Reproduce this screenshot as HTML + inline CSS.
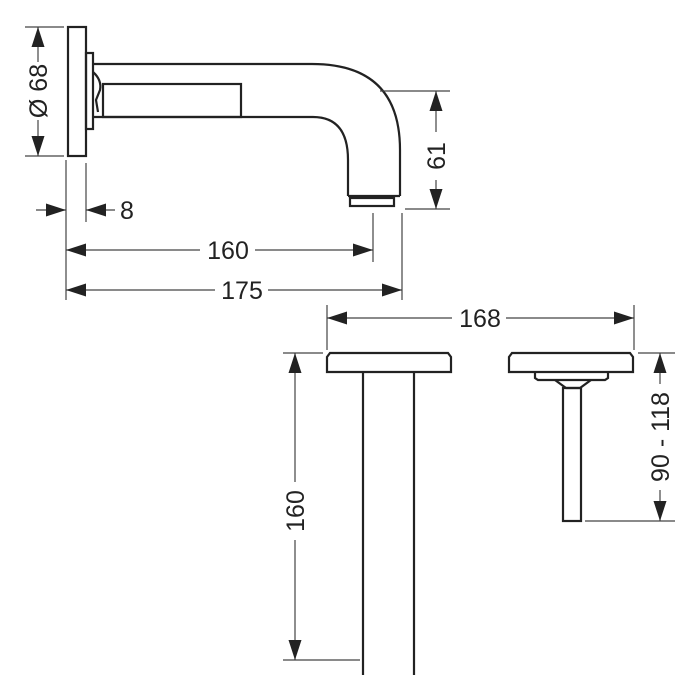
<!DOCTYPE html>
<html><head><meta charset="utf-8"><style>
html,body{margin:0;padding:0;background:#fff;}
svg{display:block;}
text{font-family:"Liberation Sans",sans-serif;font-size:25px;fill:#222;}
</style></head><body>
<svg width="700" height="700" viewBox="0 0 700 700" xmlns="http://www.w3.org/2000/svg">
<defs>
<marker id="a" viewBox="0 0 20 13" refX="20" refY="6.5" markerWidth="20" markerHeight="13" markerUnits="userSpaceOnUse" orient="auto"><path d="M0,0 L20,6.5 L0,13 Z" fill="#222"/></marker>
</defs>
<g fill="none" stroke="#222" stroke-width="2.2">
<rect x="68" y="27" width="18" height="129"/>
<rect x="86" y="53" width="7" height="76"/>
<path d="M93,64 H312 Q400,64 400,150 V196"/>
<path d="M93,117 H313 Q348,117 348,160 V196"/>
<line x1="348" y1="196" x2="400" y2="196"/>
<rect x="350" y="198" width="44" height="8"/>
<rect x="103" y="84" width="138" height="33"/>
<path d="M93,72 Q102,80 100,90 L96,100 L98,112"/>
<path d="M327,372 V357 L330,353 H448 L451,357 V372 Z"/>
<path d="M363,372 V675 M414,372 V675"/>
<path d="M509,372 V357 L512,353 H630 L633,357 V372 Z"/>
<path d="M535,372 V378 L538,380 H605 L608,378 V372"/>
<path d="M555,380 L566,388 H580 L591,380"/>
<rect x="563" y="388" width="18" height="133"/>
</g>
<g stroke="#444" stroke-width="1.2" fill="none">
<line x1="25" y1="27" x2="64" y2="27"/><line x1="25" y1="156" x2="64" y2="156"/>
<line x1="380" y1="91" x2="450" y2="91"/><line x1="405" y1="209" x2="450" y2="209"/>
<line x1="66" y1="160" x2="66" y2="300"/><line x1="86" y1="163" x2="86" y2="222"/>
<line x1="373" y1="213" x2="373" y2="262"/><line x1="402" y1="213" x2="402" y2="300"/>
<line x1="327" y1="305" x2="327" y2="350"/><line x1="634" y1="305" x2="634" y2="350"/>
<line x1="283" y1="353" x2="323" y2="353"/><line x1="283" y1="660" x2="360" y2="660"/>
<line x1="638" y1="353" x2="675" y2="353"/><line x1="585" y1="521" x2="675" y2="521"/>
<line x1="38" y1="62" x2="38" y2="27" marker-end="url(#a)"/>
<line x1="38" y1="120" x2="38" y2="156" marker-end="url(#a)"/>
<line x1="436" y1="132" x2="436" y2="91" marker-end="url(#a)"/>
<line x1="436" y1="180" x2="436" y2="209" marker-end="url(#a)"/>
<line x1="36" y1="210" x2="66" y2="210" marker-end="url(#a)"/>
<line x1="115" y1="210" x2="86" y2="210" marker-end="url(#a)"/>
<line x1="200" y1="250" x2="66" y2="250" marker-end="url(#a)"/>
<line x1="255" y1="250" x2="373" y2="250" marker-end="url(#a)"/>
<line x1="215" y1="290" x2="66" y2="290" marker-end="url(#a)"/>
<line x1="268" y1="290" x2="402" y2="290" marker-end="url(#a)"/>
<line x1="452" y1="318" x2="327" y2="318" marker-end="url(#a)"/>
<line x1="506" y1="318" x2="634" y2="318" marker-end="url(#a)"/>
<line x1="295" y1="482" x2="295" y2="353" marker-end="url(#a)"/>
<line x1="295" y1="540" x2="295" y2="660" marker-end="url(#a)"/>
<line x1="660" y1="384" x2="660" y2="353" marker-end="url(#a)"/>
<line x1="660" y1="490" x2="660" y2="521" marker-end="url(#a)"/>
</g>
<text x="120" y="219">8</text>
<text x="228" y="259" text-anchor="middle">160</text>
<text x="242" y="299" text-anchor="middle">175</text>
<text x="480" y="327" text-anchor="middle">168</text>
<text transform="translate(47,91) rotate(-90)" text-anchor="middle">Ø 68</text>
<text transform="translate(445,156) rotate(-90)" text-anchor="middle">61</text>
<text transform="translate(304,511) rotate(-90)" text-anchor="middle">160</text>
<text transform="translate(669,437) rotate(-90)" text-anchor="middle">90 - 118</text>
</svg>
</body></html>
